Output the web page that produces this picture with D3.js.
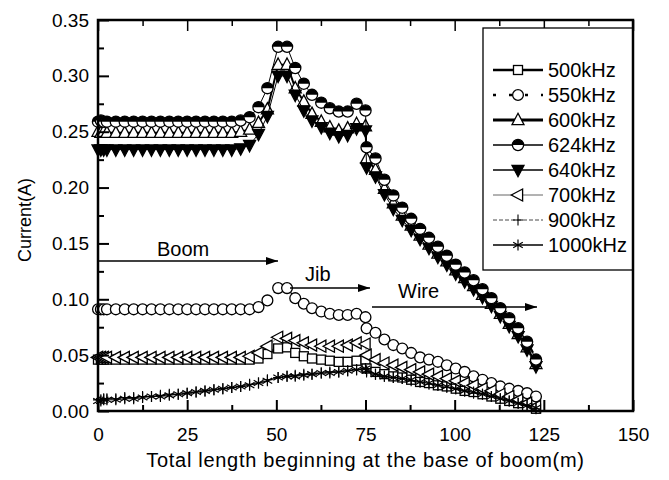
<!DOCTYPE html>
<html>
<head>
<meta charset="utf-8">
<script src="https://cdn.jsdelivr.net/npm/d3@7"></script>
<style>
  body { margin: 0; background: #fff; }
  text { font-family: "Liberation Sans", Arial, sans-serif; fill: #000; }
</style>
</head>
<body>
<script>
// Positions along the crane (m): boom, jib, then the hoist wire
const positions = [
  0, 0.8, 1.6, 2.5, 5, 7.5, 10, 12.5, 15, 17.5, 20, 22.5, 25, 27.5, 30, 32.5, 35, 37.5, 40, 42.5, 45, 47.5, 50.5,
  53, 55.3, 57.7, 60, 62.6, 65, 67.5, 70, 72.5, 75,
  75.3, 77.8, 80.3, 82.8, 85.3, 87.8, 90.3, 92.8, 95.3, 97.8, 100.3, 102.8, 105.3, 107.8, 110.3, 112.8, 115.3, 117.8, 120.3, 122.8
];

// Induced current (A) for each frequency
const i500 = [
  0.046, 0.046, 0.046, 0.046, 0.046, 0.046, 0.046, 0.046, 0.046, 0.046, 0.046, 0.046, 0.046, 0.046, 0.046, 0.046, 0.046, 0.046, 0.046, 0.046, 0.047, 0.051, 0.056,
  0.057, 0.052, 0.049, 0.047, 0.046, 0.045, 0.044, 0.044, 0.045, 0.046,
  0.038, 0.035, 0.033, 0.031, 0.030, 0.028, 0.026, 0.025, 0.023, 0.022, 0.020, 0.018, 0.017, 0.015, 0.013, 0.011, 0.009, 0.007, 0.004, 0.002
];
const i550 = [
  0.091, 0.091, 0.091, 0.091, 0.091, 0.091, 0.091, 0.091, 0.091, 0.091, 0.091, 0.091, 0.091, 0.091, 0.091, 0.091, 0.091, 0.091, 0.091, 0.091, 0.093, 0.099, 0.110,
  0.110, 0.101, 0.096, 0.092, 0.089, 0.087, 0.086, 0.086, 0.087, 0.084,
  0.074, 0.070, 0.064, 0.059, 0.056, 0.052, 0.048, 0.046, 0.044, 0.041, 0.038, 0.035, 0.031, 0.028, 0.025, 0.022, 0.020, 0.018, 0.016, 0.013
];
const i600 = [
  0.250, 0.249, 0.250, 0.249, 0.249, 0.249, 0.249, 0.249, 0.249, 0.249, 0.249, 0.249, 0.249, 0.249, 0.249, 0.249, 0.249, 0.249, 0.250, 0.252, 0.258, 0.270, 0.310,
  0.310, 0.289, 0.277, 0.266, 0.259, 0.254, 0.251, 0.253, 0.257, 0.255,
  0.226, 0.216, 0.199, 0.186, 0.175, 0.166, 0.157, 0.149, 0.141, 0.134, 0.126, 0.119, 0.112, 0.104, 0.096, 0.087, 0.078, 0.069, 0.057, 0.042
];
const i624 = [
  0.259, 0.260, 0.259, 0.259, 0.259, 0.259, 0.259, 0.259, 0.259, 0.259, 0.259, 0.259, 0.259, 0.259, 0.259, 0.259, 0.259, 0.259, 0.260, 0.263, 0.272, 0.289, 0.326,
  0.326, 0.307, 0.293, 0.283, 0.276, 0.271, 0.268, 0.268, 0.275, 0.269,
  0.236, 0.226, 0.207, 0.193, 0.182, 0.172, 0.163, 0.155, 0.147, 0.139, 0.131, 0.124, 0.117, 0.109, 0.101, 0.092, 0.083, 0.074, 0.062, 0.046
];
const i640 = [
  0.234, 0.234, 0.234, 0.234, 0.234, 0.234, 0.234, 0.234, 0.234, 0.234, 0.234, 0.234, 0.234, 0.234, 0.234, 0.234, 0.234, 0.234, 0.235, 0.238, 0.248, 0.264, 0.300,
  0.300, 0.283, 0.269, 0.260, 0.254, 0.249, 0.246, 0.247, 0.253, 0.251,
  0.218, 0.210, 0.194, 0.181, 0.171, 0.162, 0.154, 0.146, 0.138, 0.131, 0.123, 0.116, 0.109, 0.102, 0.094, 0.085, 0.076, 0.067, 0.055, 0.040
];
const i700 = [
  0.048, 0.048, 0.048, 0.048, 0.048, 0.048, 0.048, 0.048, 0.048, 0.048, 0.048, 0.048, 0.048, 0.048, 0.048, 0.048, 0.048, 0.048, 0.048, 0.049, 0.052, 0.058, 0.066,
  0.065, 0.063, 0.061, 0.059, 0.058, 0.058, 0.058, 0.059, 0.061, 0.060,
  0.050, 0.046, 0.043, 0.041, 0.039, 0.037, 0.035, 0.033, 0.031, 0.029, 0.027, 0.025, 0.023, 0.020, 0.018, 0.015, 0.013, 0.010, 0.007, 0.004
];
const i900 = [
  0.010, 0.010, 0.011, 0.011, 0.011, 0.012, 0.012, 0.013, 0.013, 0.014, 0.015, 0.015, 0.016, 0.017, 0.018, 0.019, 0.020, 0.021, 0.022, 0.024, 0.025, 0.028, 0.030,
  0.031, 0.032, 0.033, 0.033, 0.034, 0.035, 0.035, 0.036, 0.037, 0.038,
  0.035, 0.033, 0.031, 0.030, 0.029, 0.027, 0.026, 0.024, 0.023, 0.021, 0.020, 0.018, 0.016, 0.015, 0.013, 0.011, 0.009, 0.007, 0.005, 0.002
];
const i1000 = [
  0.009, 0.009, 0.010, 0.010, 0.010, 0.011, 0.011, 0.012, 0.013, 0.013, 0.014, 0.015, 0.016, 0.017, 0.018, 0.019, 0.020, 0.021, 0.022, 0.023, 0.025, 0.027, 0.030,
  0.031, 0.031, 0.032, 0.033, 0.034, 0.034, 0.035, 0.036, 0.037, 0.038,
  0.036, 0.033, 0.031, 0.030, 0.029, 0.028, 0.026, 0.025, 0.023, 0.022, 0.020, 0.018, 0.017, 0.015, 0.013, 0.011, 0.009, 0.007, 0.005, 0.003
];

const xTicks = [0, 25, 50, 75, 100, 125, 150];
const xMinor = [12.5, 37.5, 62.5, 87.5, 112.5, 137.5];
const yTicks = [0, 0.05, 0.10, 0.15, 0.20, 0.25, 0.30, 0.35];
const yMinor = [0.025, 0.075, 0.125, 0.175, 0.225, 0.275, 0.325];

const W = 669, H = 480;
const svg = d3.select("body").append("svg").attr("width", W).attr("height", H);

const x = d3.scaleLinear().domain([0, 150]).range([98, 633]);
const y = d3.scaleLinear().domain([0, 0.35]).range([411, 20]);

// Marker drawing helpers (centred on 0,0)
const MS = 1.3; // marker outline width
function drawMarker(g, type) {
  switch (type) {
    case "square":
      g.append("rect").attr("x", -4.5).attr("y", -4.5).attr("width", 9).attr("height", 9)
        .attr("fill", "#fff").attr("stroke", "#000").attr("stroke-width", MS);
      break;
    case "circle":
      g.append("circle").attr("r", 5.4).attr("fill", "#fff").attr("stroke", "#000").attr("stroke-width", MS);
      break;
    case "triUp":
      g.append("path").attr("d", "M0,-6.7L6,4.6L-6,4.6Z")
        .attr("fill", "#fff").attr("stroke", "#000").attr("stroke-width", MS);
      break;
    case "half":
      g.append("circle").attr("r", 5.6).attr("fill", "#fff").attr("stroke", "#000").attr("stroke-width", MS);
      g.append("path").attr("d", "M-5.6,0A5.6,5.6 0 0 1 5.6,0Z").attr("fill", "#000");
      break;
    case "triDown":
      g.append("path").attr("d", "M0,6.7L6,-4.6L-6,-4.6Z")
        .attr("fill", "#000").attr("stroke", "#000").attr("stroke-width", MS);
      break;
    case "triLeft":
      g.append("path").attr("d", "M-6.7,0L4.6,-6L4.6,6Z")
        .attr("fill", "#fff").attr("stroke", "#000").attr("stroke-width", MS);
      break;
    case "plus":
      g.append("path").attr("d", "M-5,0H5M0,-5.5V5.5")
        .attr("fill", "none").attr("stroke", "#000").attr("stroke-width", 1.1);
      break;
    case "star":
      g.append("path").attr("d", "M0,-5.5V5.5M-4.8,-2.75L4.8,2.75M-4.8,2.75L4.8,-2.75")
        .attr("fill", "none").attr("stroke", "#000").attr("stroke-width", 1.2);
      break;
  }
}

const series = [
  { label: "500kHz",  values: i500,  marker: "square",  width: 1.2, dash: null,  color: "#555", legendWidth: 2.4, legendColor: "#000" },
  { label: "550kHz",  values: i550,  marker: "circle",  width: 1.2, dash: "2,5", color: "#000", legendWidth: 2.4, legendColor: "#000" },
  { label: "600kHz",  values: i600,  marker: "triUp",   width: 2,   dash: null,  color: "#000", legendWidth: 2.8, legendColor: "#000" },
  { label: "624kHz",  values: i624,  marker: "half",    width: 1,   dash: null,  color: "#000", legendWidth: 1.3, legendColor: "#000" },
  { label: "640kHz",  values: i640,  marker: "triDown", width: 1,   dash: null,  color: "#000", legendWidth: 1.3, legendColor: "#000" },
  { label: "700kHz",  values: i700,  marker: "triLeft", width: 0.8, dash: null,  color: "#777", legendWidth: 0.9, legendColor: "#555" },
  { label: "900kHz",  values: i900,  marker: "plus",    width: 0.8, dash: "3,2", color: "#333", legendWidth: 0.9, legendColor: "#333" },
  { label: "1000kHz", values: i1000, marker: "star",    width: 1,   dash: null,  color: "#000", legendWidth: 1.3, legendColor: "#000" }
];

const line = d3.line().x((d, i) => x(positions[i])).y(d => y(d));

// Drawing order: 640 below 624 so half-filled circles sit on top
const drawOrder = [0, 1, 2, 4, 3, 5, 6, 7];
const plot = svg.append("g");
drawOrder.forEach(k => {
  const s = series[k];
  const g = plot.append("g");
  g.append("path").datum(s.values).attr("d", line)
    .attr("fill", "none").attr("stroke", s.color).attr("stroke-width", s.width)
    .attr("stroke-dasharray", s.dash);
  g.selectAll("g.m").data(s.values).enter().append("g").attr("class", "m")
    .attr("transform", (d, i) => `translate(${x(positions[i])},${y(d)})`)
    .each(function () { drawMarker(d3.select(this), s.marker); });
});

// Axes with inward ticks
const axes = svg.append("g");
const fmt = d3.format(".2f");
axes.append("g").attr("transform", "translate(0,411)")
  .call(d3.axisBottom(x).tickValues(xTicks).tickSize(-11).tickPadding(17).tickFormat(d3.format("d")))
  .call(g => g.select(".domain").remove())
  .call(g => g.selectAll("line").attr("stroke-width", 2))
  .call(g => g.selectAll("text").attr("font-size", 19).attr("fill", "#000")
    .attr("font-family", "Liberation Sans, Arial, sans-serif"));
axes.append("g").attr("transform", "translate(0,411)")
  .call(d3.axisBottom(x).tickValues(xMinor).tickSize(-6).tickFormat(""))
  .call(g => g.select(".domain").remove())
  .call(g => g.selectAll("line").attr("stroke-width", 2));
axes.append("g").attr("transform", "translate(0,20)")
  .call(d3.axisTop(x).tickValues(xTicks).tickSize(-11).tickFormat(""))
  .call(g => g.select(".domain").remove())
  .call(g => g.selectAll("line").attr("stroke-width", 1.5));
axes.append("g").attr("transform", "translate(0,20)")
  .call(d3.axisTop(x).tickValues(xMinor).tickSize(-6).tickFormat(""))
  .call(g => g.select(".domain").remove())
  .call(g => g.selectAll("line").attr("stroke-width", 1.5));
axes.append("g").attr("transform", "translate(98,0)")
  .call(d3.axisLeft(y).tickValues(yTicks).tickSize(-11).tickPadding(9).tickFormat(fmt))
  .call(g => g.select(".domain").remove())
  .call(g => g.selectAll("line").attr("stroke-width", 2))
  .call(g => g.selectAll("text").attr("font-size", 19).attr("fill", "#000")
    .attr("font-family", "Liberation Sans, Arial, sans-serif"));
axes.append("g").attr("transform", "translate(98,0)")
  .call(d3.axisLeft(y).tickValues(yMinor).tickSize(-6).tickFormat(""))
  .call(g => g.select(".domain").remove())
  .call(g => g.selectAll("line").attr("stroke-width", 2));

// Section annotations: Boom, Jib, Wire
svg.append("defs").append("marker").attr("id", "ah")
  .attr("viewBox", "0 0 12 8").attr("refX", 12).attr("refY", 4)
  .attr("markerWidth", 12).attr("markerHeight", 8).attr("markerUnits", "userSpaceOnUse")
  .attr("orient", "auto")
  .append("path").attr("d", "M0,0L12,4L0,8Z").attr("fill", "#000");

const notes = [
  { text: "Boom", tx: 157, ty: 256, x1: 98,  x2: 278, ay: 261 },
  { text: "Jib",  tx: 305, ty: 281, x1: 290, x2: 370, ay: 288 },
  { text: "Wire", tx: 398, ty: 298, x1: 372, x2: 537, ay: 307 }
];
notes.forEach(n => {
  svg.append("line").attr("x1", n.x1).attr("x2", n.x2).attr("y1", n.ay).attr("y2", n.ay)
    .attr("stroke", "#000").attr("stroke-width", 1.6).attr("marker-end", "url(#ah)");
  svg.append("text").attr("x", n.tx).attr("y", n.ty).attr("font-size", 20).text(n.text);
});

// Legend
const lg = svg.append("g");
lg.append("rect").attr("x", 483).attr("y", 28).attr("width", 150).attr("height", 242)
  .attr("fill", "#fff").attr("stroke", "#000").attr("stroke-width", 1.3);
series.forEach((s, i) => {
  const cy = 70 + i * 25;
  const g = lg.append("g");
  g.append("line").attr("x1", 493).attr("x2", 543).attr("y1", cy).attr("y2", cy)
    .attr("stroke", s.legendColor).attr("stroke-width", s.legendWidth)
    .attr("stroke-dasharray", s.dash ? (s.label === "550kHz" ? "3,13" : "4,2") : null);
  const m = g.append("g").attr("transform", `translate(518,${cy})`);
  drawMarker(m, s.marker);
  g.append("text").attr("x", 548).attr("y", cy + 7).attr("font-size", 20).text(s.label);
});

// Plot frame
svg.append("rect").attr("x", 98).attr("y", 20).attr("width", 535).attr("height", 391)
  .attr("fill", "none").attr("stroke", "#000").attr("stroke-width", 2.5);

// Axis titles
svg.append("text").attr("x", 365.5).attr("y", 467).attr("text-anchor", "middle")
  .attr("font-size", 20).attr("letter-spacing", 0.7)
  .text("Total length beginning at the base of boom(m)");
svg.append("text").attr("transform", "translate(31,220) rotate(-90)")
  .attr("text-anchor", "middle").attr("font-size", 18).text("Current(A)");
</script>
</body>
</html>
